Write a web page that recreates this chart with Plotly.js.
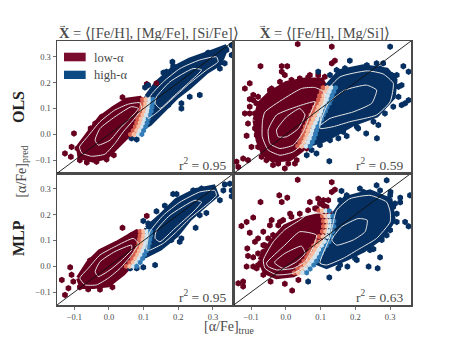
<!DOCTYPE html>
<html><head><meta charset="utf-8">
<script src="https://cdn.plot.ly/plotly-3.0.1.min.js"></script>
<style>html,body{margin:0;padding:0;background:#fff}</style></head>
<body><div id="chart" style="width:457px;height:343px"></div>
<script>
const panelTitles = ["<b>X</b> = ⟨[Fe/H], [Mg/Fe], [Si/Fe]⟩", "<b>X</b> = ⟨[Fe/H], [Mg/Si]⟩"];
const rowLabels = ["OLS", "MLP"];
const r2Labels = ["r<sup>2</sup> = 0.95", "r<sup>2</sup> = 0.59", "r<sup>2</sup> = 0.95", "r<sup>2</sup> = 0.63"];
const rdbu = [[0,"#67001f"],[0.1,"#b2182b"],[0.2,"#d6604d"],[0.3,"#f4a582"],[0.4,"#fddbc7"],[0.5,"#f7f7f7"],[0.6,"#d1e5f0"],[0.7,"#92c5de"],[0.8,"#4393c3"],[0.9,"#2166ac"],[1,"#053061"]];
// low-alpha fraction shade of the four hexagons read across the red/blue boundary, left to right
const midShades = [0.2, 0.34, 0.6, 0.85];

// Panel A: OLS, Fe/H + Mg/Fe + Si/Fe
const aRedBody = [[-.088,-.048],[-.06,.004],[-.026,.062],[.012,.1],[.051,.132],[.089,.139],[.104,.12],[.099,.08],[.08,.01],[.051,-.009],[.022,-.048],[-.007,-.086],[-.045,-.099],[-.084,-.086]];
const aBlueBody = [[.109,.145],[.137,.197],[.185,.254],[.233,.287],[.301,.319],[.339,.338],[.32,.274],[.281,.242],[.233,.184],[.195,.145],[.157,.094],[.118,.042],[.094,.023],[.099,.081]];
const aRedHex = [[-.127,-.073],[-.11,-.086],[-.101,.004],[-.053,.023],[.039,.143],[-.084,-.099],[-.064,-.108],[-.036,-.105],[-.007,-.096],[.014,-.08],[.109,.194],[.137,.197],[-.108,-.048],[-.091,-.054],[-.021,.068],[-.04,.042]];
const aBlueHex = [[.183,.28],[.166,.242],[.157,.238],[.113,.19],[.104,.181],[.133,.177],[.185,.263],[.262,.152],[.233,.145],[.209,.12],[.209,.1],[.171,.113],[.099,.036],[.065,-.015],[.08,-.019],[.339,.325],[.354,.306],[.334,.274],[.32,.254],[.286,.315],[.31,.319],[.354,.344]];
const aMidRows = [[.135,.097,.107,.117,.127],[.12,.096,.106,.116,.126],[.105,.094,.104,.114,.124],[.09,.092,.102,.112,.122],[.075,.088,.098,.108,.118],[.06,.083,.093,.103,.113],[.045,.08,.09,.1,.11],[.03,.076,.086,.096,.106],[.015,.07,.08,.09,.1],[0,.062,.072,.085,.095]];
const aContours = [
 [[-.085,-.048],[-.062,-.009],[-.026,.049],[.017,.094],[.056,.117],[.089,.122],[.094,.1],[.07,.055],[.041,.01],[.017,-.035],[-.012,-.076],[-.05,-.084],[-.079,-.071],[-.085,-.048]],
 [[-.04,-.022],[-.026,.023],[.017,.068],[.065,.107],[.085,.1],[.065,.068],[.032,.023],[.003,-.022],[-.031,-.041],[-.04,-.022]],
 [[.118,.145],[.157,.203],[.205,.254],[.262,.287],[.31,.299],[.315,.28],[.281,.248],[.233,.197],[.195,.152],[.147,.094],[.113,.062],[.118,.145]],
 [[.137,.145],[.176,.203],[.243,.254],[.267,.249],[.233,.203],[.185,.145],[.147,.1],[.133,.12],[.137,.145]]
];

// Panel B: OLS, Fe/H + Mg/Si
const bRedBody = [[-.089,.055],[-.075,.12],[-.046,.158],[.002,.197],[.055,.21],[.103,.21],[.117,.171],[.117,.119],[.098,.068],[.084,.017],[.069,-.022],[.045,-.06],[.012,-.093],[-.037,-.099],[-.065,-.073],[-.08,-.022]];
const bBlueBody = [[.117,.184],[.156,.242],[.223,.261],[.29,.248],[.314,.21],[.309,.145],[.261,.075],[.194,.042],[.146,.004],[.108,-.022],[.074,-.035],[.098,.03],[.113,.094]];
const bRedHex = [[.034,.348],[.132,.338],[.141,.284],[.132,.274],[-.073,.263],[-.012,.263],[.004,.263],[-.012,.242],[-.003,.229],[-.104,.197],[-.118,.177],[-.104,.136],[-.118,.081],[-.104,.081],[-.041,.177],[-.109,.042],[-.08,.049],[-.113,-.005],[-.084,-.003],[-.099,-.048],[-.123,-.093],[-.142,-.105],[-.137,-.125],[-.109,-.099],[-.003,-.131],[-.037,-.118],[.026,-.112],[.069,.229],[.093,.229],[-.08,.145],[-.094,.132],[-.094,.152],[-.085,.12],[-.104,.107],[-.089,.081],[-.089,.023],[-.08,-.048],[-.07,-.086],[-.056,-.099],[-.022,-.112],[.007,-.112],[.031,-.099],[.06,-.054],[-.046,.171],[-.017,.203],[.016,.21],[.04,.216],[.064,.22],[.112,.222]];
const bBlueHex = [[.184,.284],[.3,.338],[.28,.274],[.261,.274],[.338,.263],[.353,.242],[.093,.242],[.333,.19],[.353,.132],[.343,.12],[.333,.113],[.266,.036],[.231,.004],[.262,-.015],[.175,-.006],[.151,-.015],[.125,-.103],[.088,-.073],[.06,-.08],[.204,.03],[.319,.229],[.127,.229],[.146,.248],[.17,.255],[.233,.267],[.271,.254],[.305,.229],[.324,.184],[.324,.145],[.309,.107],[.285,.081],[.252,.049],[.208,.023],[.165,.01],[.127,-.022],[.098,-.041],[.074,-.06]];
const bMidRows = [[.18,.107,.119,.131,.143],[.165,.102,.114,.126,.138],[.15,.097,.109,.121,.133],[.135,.094,.106,.118,.13],[.12,.089,.101,.113,.125],[.105,.082,.094,.106,.118],[.09,.078,.09,.102,.114],[.075,.072,.084,.096,.108],[.06,.067,.079,.091,.103],[.045,.062,.074,.086,.098],[.03,.056,.068,.08,.092],[.015,.052,.064,.076,.088],[0,.049,.061,.073,.085],[-.015,.045,.057,.069,.081],[-.03,.04,.052,.064,.076],[-.045,.034,.046,.058,.07]];
const bContours = [
 [[-.06,.087],[.045,.177],[.083,.181],[.108,.165],[.113,.133],[.093,.068],[.069,.004],[.05,-.035],[.021,-.067],[-.017,-.08],[-.051,-.06],[-.068,-.009],[-.067,.055],[-.06,.087]],
 [[-.051,.017],[-.027,.075],[.031,.107],[.084,.126],[.069,.075],[.05,.01],[.021,-.041],[-.017,-.054],[-.046,-.035],[-.051,.017]],
 [[-.027,.017],[.002,.068],[.04,.1],[.055,.075],[.036,.023],[.002,-.009],[-.022,-.009],[-.027,.017]],
 [[.117,.165],[.156,.222],[.234,.245],[.28,.233],[.309,.197],[.3,.126],[.261,.075],[.184,.049],[.136,.03],[.098,.023],[.098,.042],[.117,.165]],
 [[.122,.12],[.17,.171],[.232,.19],[.261,.171],[.247,.12],[.194,.087],[.127,.062],[.098,.036],[.122,.12]]
];

// Panel C: MLP, Fe/H + Mg/Fe + Si/Fe
const cRedBody = [[-.088,-.046],[-.06,.012],[-.026,.057],[.022,.089],[.08,.134],[.104,.121],[.099,.069],[.075,.024],[.041,-.027],[-.002,-.072],[-.045,-.078],[-.079,-.078]];
const cBlueBody = [[.109,.147],[.147,.192],[.195,.256],[.252,.294],[.301,.307],[.31,.275],[.281,.243],[.233,.185],[.195,.121],[.147,.069],[.109,.044],[.089,.031],[.1,.09]];
const cRedHex = [[.039,.149],[-.112,-.004],[-.136,-.053],[-.117,-.085],[-.127,-.111],[-.108,-.033],[-.103,-.059],[-.084,-.081],[-.06,-.089],[-.026,-.09],[.01,-.081],[.109,.195],[.065,.121],[-.055,.022],[-.021,.057]];
const cBlueHex = [[.185,.28],[.195,.28],[.161,.235],[.137,.213],[.099,.176],[.113,.166],[.25,.149],[.262,.198],[.281,.207],[.209,.108],[.204,.095],[.18,.102],[.133,.005],[.099,-.004],[.08,-.008],[.061,-.008],[.334,.317],[.349,.32],[.354,.294],[.33,.294],[.354,.271],[.32,.256],[.267,.301],[.243,.294]];
const cMidRows = [[.135,.09,.1,.11,.12],[.12,.09,.1,.11,.12],[.105,.088,.098,.108,.118],[.09,.086,.096,.106,.116],[.075,.083,.093,.103,.113],[.06,.078,.088,.098,.108],[.045,.073,.083,.093,.103],[.03,.067,.077,.087,.097],[.015,.06,.07,.08,.09],[0,.05,.06,.07,.08]];
const cContours = [
 [[-.084,-.046],[-.06,-.008],[-.026,.044],[.017,.076],[.07,.108],[.085,.089],[.065,.044],[.032,-.008],[-.002,-.046],[-.036,-.072],[-.069,-.072],[-.084,-.046]],
 [[-.04,-.021],[-.026,.018],[.017,.057],[.065,.082],[.065,.063],[.032,.018],[.003,-.014],[-.031,-.04],[-.04,-.021]],
 [[.118,.134],[.157,.198],[.205,.249],[.262,.288],[.305,.294],[.31,.275],[.291,.249],[.233,.185],[.195,.134],[.157,.089],[.118,.063],[.109,.063],[.118,.134]],
 [[.137,.14],[.176,.198],[.248,.256],[.267,.249],[.243,.211],[.19,.147],[.147,.095],[.133,.108],[.137,.14]]
];

// Panel D: MLP, Fe/H + Mg/Si
const dRedBody = [[-.075,.024],[-.041,.095],[-.003,.153],[.04,.179],[.098,.198],[.127,.204],[.127,.153],[.117,.114],[.088,.063],[.074,.031],[.055,-.008],[.021,-.033],[-.027,-.04],[-.06,-.021]];
const dBlueBody = [[.127,.179],[.17,.262],[.242,.288],[.3,.256],[.309,.179],[.276,.114],[.223,.063],[.175,.031],[.117,-.001],[.093,.012],[.112,.076],[.122,.127]];
const dRedHex = [[.034,.335],[.132,.326],[.141,.297],[.132,.288],[-.019,.275],[.004,.266],[-.012,.249],[-.073,.249],[-.094,.189],[-.113,.172],[-.128,.156],[-.104,.13],[-.041,.179],[-.046,.159],[-.017,.172],[.093,.262],[.069,.249],[.122,.256],[-.065,.134],[-.08,.108],[-.089,.095],[-.111,.069],[-.065,.082],[-.109,.04],[-.094,.035],[-.113,-.001],[-.084,-.008],[-.065,-.033],[-.123,-.059],[-.123,-.078],[-.137,-.066],[-.044,-.059],[-.003,-.068],[.018,-.094],[.036,-.053],[.012,.204],[.098,.243],[.108,.236],[-.037,.121],[-.051,.108],[-.061,.082],[-.065,.056],[-.08,.05],[-.022,.159],[-.008,.179],[.016,.192],[.04,.204],[.064,.217],[.084,.224],[.108,.256],[.088,.224],[.117,.23],[-.094,-.001],[-.08,.005]];
const dBlueHex = [[.16,.292],[.213,.301],[.261,.314],[.29,.333],[.301,.288],[.329,.266],[.329,.248],[.309,.23],[.357,.275],[.343,.172],[.353,.155],[.29,.12],[.271,.035],[.238,-.001],[.264,-.008],[.177,-.001],[.125,-.043],[.064,-.059],[.151,-.008],[.204,.024],[.252,.067],[.156,.256],[.175,.275],[.223,.288],[.271,.294],[.3,.275],[.314,.243],[.319,.204],[.319,.172],[.3,.14],[.276,.102],[.242,.063],[.199,.031],[.156,.005]];
const dMidRows = [[.215,.095,.105,.115,.125],[.195,.105,.115,.125,.135],[.175,.108,.118,.128,.138],[.155,.108,.118,.128,.138],[.135,.105,.115,.125,.135],[.115,.095,.107,.119,.131],[.095,.088,.1,.112,.124],[.08,.08,.092,.104,.116],[.065,.072,.084,.096,.108],[.05,.066,.078,.09,.102],[.035,.06,.072,.084,.096],[.02,.052,.064,.076,.088],[.005,.044,.056,.068,.08],[-.01,.034,.046,.058,.07],[-.025,.024,.036,.048,.06]];
const dContours = [
 [[-.065,.024],[-.036,.095],[-.003,.142],[.04,.179],[.069,.207],[.103,.204],[.122,.179],[.117,.127],[.084,.05],[.055,-.001],[.021,-.027],[-.027,-.033],[-.06,-.008],[-.065,.024]],
 [[-.056,.012],[-.003,.082],[.04,.134],[.088,.121],[.079,.076],[.055,.018],[.021,-.008],[-.027,-.014],[-.051,-.001],[-.056,.012]],
 [[-.032,.018],[-.003,.05],[.045,.078],[.055,.05],[.031,.018],[-.008,-.008],[-.032,.012],[-.032,.018]],
 [[.146,.217],[.184,.262],[.242,.275],[.29,.249],[.3,.211],[.3,.172],[.261,.108],[.213,.069],[.165,.031],[.117,.005],[.098,.012],[.127,.114],[.146,.217]],
 [[.132,.102],[.16,.153],[.208,.185],[.234,.179],[.228,.134],[.194,.102],[.146,.082],[.132,.102]]
];

const axisRange = [-0.15, 0.36];
const RED = "#67001f", BLUE = "#053061", SERIF = "Liberation Serif", INK = "#4a4a4a";
const col = (arr, i) => arr.map(p => p[i]);
const panels = [
 {ax:"x3", ay:"y3", rb:aRedBody, bb:aBlueBody, rh:aRedHex, bh:aBlueHex, mr:aMidRows, ct:aContours},
 {ax:"x4", ay:"y4", rb:bRedBody, bb:bBlueBody, rh:bRedHex, bh:bBlueHex, mr:bMidRows, ct:bContours},
 {ax:"x",  ay:"y",  rb:cRedBody, bb:cBlueBody, rh:cRedHex, bh:cBlueHex, mr:cMidRows, ct:cContours},
 {ax:"x2", ay:"y2", rb:dRedBody, bb:dBlueBody, rh:dRedHex, bh:dBlueHex, mr:dMidRows, ct:dContours}
];
const traces = [];
const HEX = 6.5;
panels.forEach(p => {
  const base = {xaxis:p.ax, yaxis:p.ay, showlegend:false, hoverinfo:"skip"};
  [[p.rb,RED,"low-α"],[p.bb,BLUE,"high-α"]].forEach(([b,c,n]) => traces.push({...base, name:n, type:"scatter", mode:"lines", x:col(b,0).concat(b[0][0]), y:col(b,1).concat(b[0][1]), fill:"toself", fillcolor:c, line:{width:5,color:c}}));
  [[p.rh,RED,"low-α"],[p.bh,BLUE,"high-α"]].forEach(([h,c,n]) => traces.push({...base, name:n, type:"scatter", mode:"markers", x:col(h,0), y:col(h,1), marker:{symbol:"hexagon", size:HEX, color:c, line:{width:0}}}));
  // one trace per shade, red side first, so neighbouring shades blend across the boundary
  midShades.forEach((s, k) => traces.push({...base, type:"scatter", mode:"markers", x:p.mr.map(r => r[k+1]), y:p.mr.map(r => r[0]), marker:{symbol:"hexagon", size:5.5, color:p.mr.map(() => s), colorscale:rdbu, cmin:0, cmax:1, line:{width:0}}}));
  p.ct.forEach(c => traces.push({...base, type:"scatter", mode:"lines", x:col(c,0), y:col(c,1), line:{color:"#e6e6e6", width:1, shape:"spline", smoothing:0.5}}));
  traces.push({...base, type:"scatter", mode:"lines", x:axisRange, y:axisRange, line:{color:"#111", width:0.9}});
});
const axis = (extra) => Object.assign({range:axisRange, dtick:0.1, tick0:0, tickformat:".1f", showgrid:false, zeroline:false, showline:true, mirror:true, linecolor:"#4a4a4a", linewidth:1.5, ticks:"outside", ticklen:3, tickwidth:0.8, tickcolor:INK, tickfont:{family:SERIF, size:8.5, color:INK}}, extra);
const L = [0, 0.4993], R = [0.4993, 1], B = [0, 0.4985], T = [0.4985, 1];
const ann = (text, xp, yp, size, extra) => Object.assign({text, xref:"paper", yref:"paper", x:(xp-57)/354.5, y:(305-yp)/264, xanchor:"center", yanchor:"middle", showarrow:false, font:{family:SERIF, size, color:INK}}, extra);
const layout = {
  width:457, height:343, margin:{l:57, r:45.5, t:41, b:38}, paper_bgcolor:"#fff", plot_bgcolor:"#fff", showlegend:false,
  xaxis:axis({domain:L, anchor:"y"}), yaxis:axis({domain:B, anchor:"x"}),
  xaxis2:axis({domain:R, anchor:"y2", showticklabels:true}), yaxis2:axis({domain:B, anchor:"x2", showticklabels:false, ticks:""}),
  xaxis3:axis({domain:L, anchor:"y3", showticklabels:false, ticks:""}), yaxis3:axis({domain:T, anchor:"x3"}),
  xaxis4:axis({domain:R, anchor:"y4", showticklabels:false, ticks:""}), yaxis4:axis({domain:T, anchor:"x4", showticklabels:false, ticks:""}),
  shapes:[
    {type:"rect", xref:"paper", yref:"paper", x0:(64-57)/354.5, x1:(85.7-57)/354.5, y0:(305-61.3)/264, y1:(305-52.7)/264, fillcolor:"#7a0c2e", line:{width:0}},
    {type:"rect", xref:"paper", yref:"paper", x0:(64-57)/354.5, x1:(85.7-57)/354.5, y0:(305-79)/264, y1:(305-70.7)/264, fillcolor:"#0c4a84", line:{width:0}}
  ],
  annotations:[
    ann(panelTitles[0], 57, 33, 14.5, {xanchor:"left"}),
    ann(panelTitles[1], 258, 33, 14.5, {xanchor:"left"}),
    ann("→", 63, 24.5, 9),
    ann("→", 263, 24.5, 9),
    ann("<b>"+rowLabels[0]+"</b>", 18, 107, 16, {textangle:-90, font:{family:SERIF, size:16, color:"#222"}}),
    ann("<b>"+rowLabels[1]+"</b>", 18, 238, 16, {textangle:-90, font:{family:SERIF, size:16, color:"#222"}}),
    ann("[α/Fe]<sub>pred</sub>", 22, 171.5, 14, {textangle:-90}),
    ann("[α/Fe]<sub>true</sub>", 229, 327.5, 14),
    ann("low-α", 92, 58, 12.5, {xanchor:"left"}),
    ann("high-α", 92, 75, 12.5, {xanchor:"left"}),
    ann(r2Labels[0], 228, 164, 13.5, {xanchor:"right"}),
    ann(r2Labels[1], 405, 164, 13.5, {xanchor:"right"}),
    ann(r2Labels[2], 228, 296, 13.5, {xanchor:"right"}),
    ann(r2Labels[3], 405, 296, 13.5, {xanchor:"right"})
  ]
};
Plotly.newPlot("chart", traces, layout, {staticPlot:true, displayModeBar:false});
</script></body></html>
